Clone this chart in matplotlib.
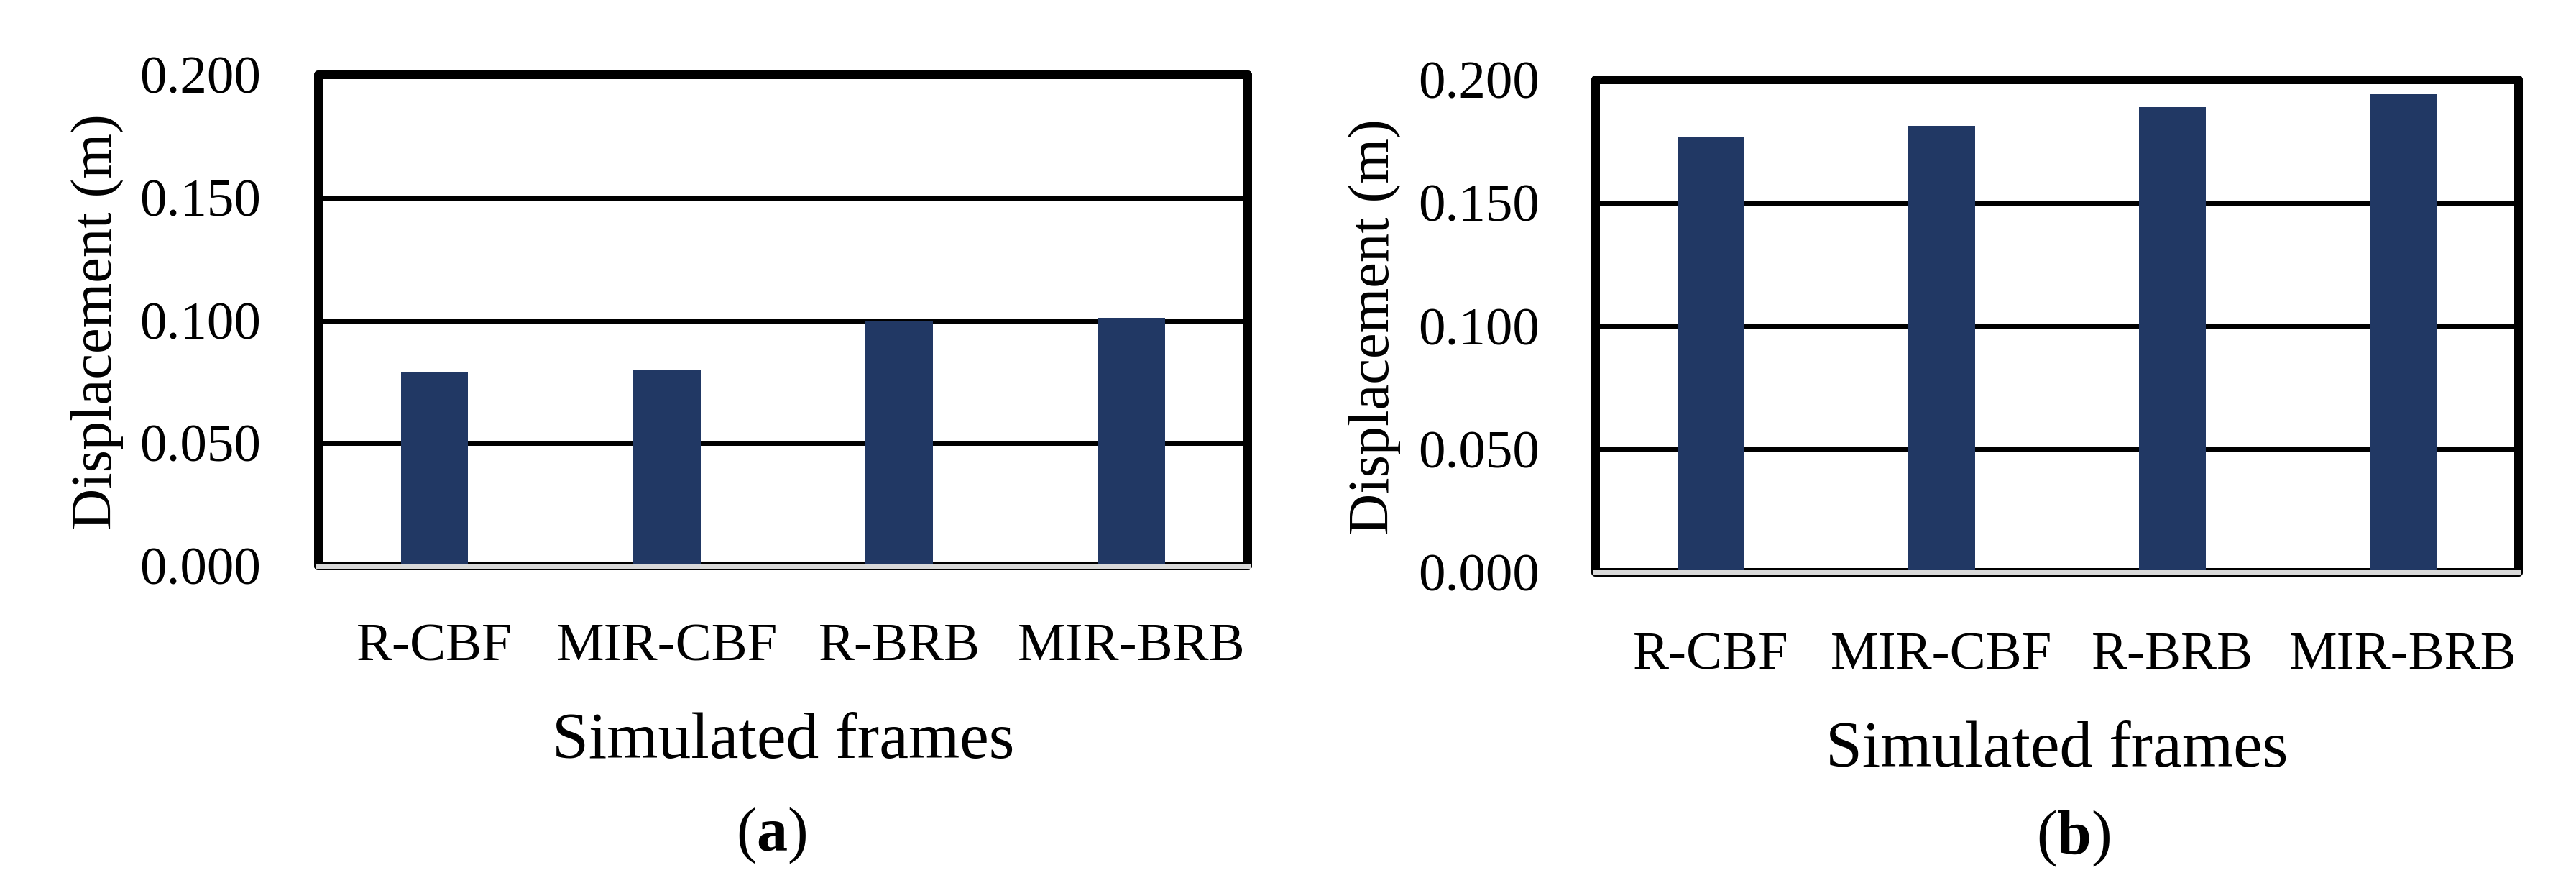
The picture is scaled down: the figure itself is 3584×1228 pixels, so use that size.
import matplotlib
matplotlib.use("Agg")
import matplotlib.pyplot as plt
import numpy as np

# ---- data ----
categories = ["R-CBF", "MIR-CBF", "R-BRB", "MIR-BRB"]
disp_a = [0.079, 0.080, 0.0995, 0.101]
disp_b = [0.1765, 0.1812, 0.1890, 0.1943]
yticks = [0.000, 0.050, 0.100, 0.150, 0.200]
ylabel = "Displacement (m)"
xlabel = "Simulated frames"
panel_tags = ["a", "b"]

plt.rcParams["font.family"] = ["Liberation Serif", "DejaVu Serif"]
plt.rcParams["mathtext.fontset"] = "custom"
plt.rcParams["mathtext.rm"] = "Liberation Serif"
plt.rcParams["mathtext.bf"] = "Liberation Serif:bold"

W, H = 3584, 1228
fig = plt.figure(figsize=(W / 100, H / 100), dpi=100)

BAR = "#213864"
PX = 72 / 100  # points per pixel

# axes boxes in pixels: left, right, top(0.2), bottom(0)
boxes = [(443, 1736, 104, 787), (2220, 3504, 111, 796)]
tick_pad_px = [80, 78]
cat_pad_px = [80, 83]
ylab_pos = [(135, 448), (1912, 455)]
xlab_pos = [(1089.5, 1054), (2862, 1066)]
tag_pos = [(1073, 1183), (2885, 1187)]

for i, vals in enumerate([disp_a, disp_b]):
    l, r, t, b = boxes[i]
    ax = fig.add_axes([l / W, 1 - b / H, (r - l) / W, (b - t) / H])
    x = np.arange(len(categories))
    ax.bar(x, vals, width=0.29, color=BAR, zorder=3)
    ax.set_xlim(-0.5, len(categories) - 0.5)
    ax.set_ylim(0, 0.2)
    ax.set_xticks(x)
    ax.set_xticklabels(categories, fontsize=54)
    ax.set_yticks(yticks)
    ax.set_yticklabels([f"{v:.3f}" for v in yticks], fontsize=54)
    ax.tick_params(axis="y", length=0, pad=tick_pad_px[i] * PX)
    ax.tick_params(axis="x", length=0, pad=cat_pad_px[i] * PX)
    ax.yaxis.grid(True, color="black", linewidth=7 * PX, zorder=1)
    ax.set_axisbelow(True)
    for sp in ax.spines.values():
        sp.set_linewidth(12 * PX)
        sp.set_color("black")
        sp.set_capstyle("round")
    ax.axhline(0, color="#d9d9d9", linewidth=7 * PX, zorder=4, clip_on=False)

    fig.text(ylab_pos[i][0] / W, 1 - ylab_pos[i][1] / H, ylabel, rotation=90,
             ha="center", va="center", fontsize=58)
    fig.text(xlab_pos[i][0] / W, 1 - xlab_pos[i][1] / H, xlabel,
             ha="center", va="baseline", fontsize=66)
    fig.text(tag_pos[i][0] / W, 1 - tag_pos[i][1] / H,
             "($\\mathbf{" + panel_tags[i] + "}$)",
             ha="center", va="baseline", fontsize=62)

fig.savefig("out.png", dpi=100, facecolor="white")
